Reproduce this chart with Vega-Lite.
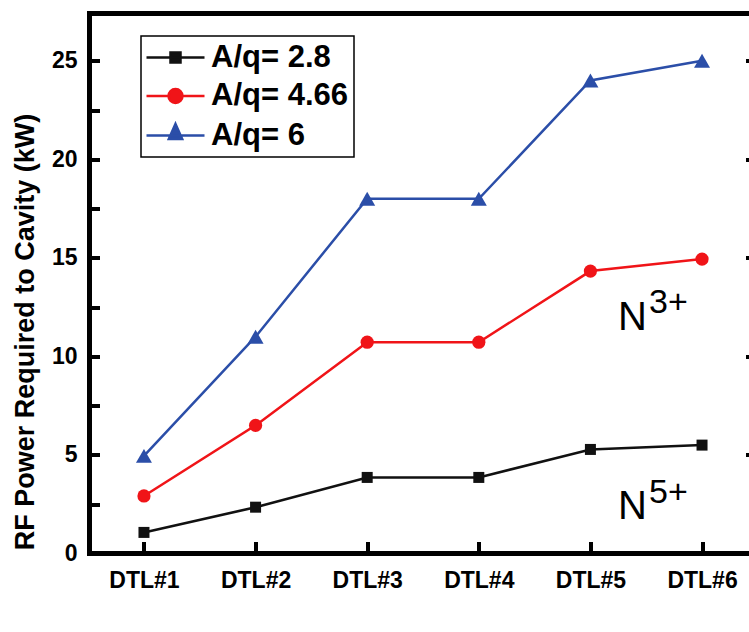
{
  "$schema": "https://vega.github.io/schema/vega-lite/v6.json",
  "width": 667,
  "height": 540,
  "autosize": "none",
  "padding": {"left": 89.5, "top": 13.5, "right": 0, "bottom": 78.5},
  "background": "#ffffff",
  "config": {
    "view": {"stroke": "#000000", "strokeWidth": 5},
    "font": "Liberation Sans"
  },
  "datasets": {
    "series": [
      {"cavity": "DTL#1", "aq": "A/q= 2.8", "power": 1.07},
      {"cavity": "DTL#2", "aq": "A/q= 2.8", "power": 2.35},
      {"cavity": "DTL#3", "aq": "A/q= 2.8", "power": 3.86},
      {"cavity": "DTL#4", "aq": "A/q= 2.8", "power": 3.86},
      {"cavity": "DTL#5", "aq": "A/q= 2.8", "power": 5.28},
      {"cavity": "DTL#6", "aq": "A/q= 2.8", "power": 5.5},
      {"cavity": "DTL#1", "aq": "A/q= 4.66", "power": 2.92},
      {"cavity": "DTL#2", "aq": "A/q= 4.66", "power": 6.5},
      {"cavity": "DTL#3", "aq": "A/q= 4.66", "power": 10.72},
      {"cavity": "DTL#4", "aq": "A/q= 4.66", "power": 10.72},
      {"cavity": "DTL#5", "aq": "A/q= 4.66", "power": 14.33},
      {"cavity": "DTL#6", "aq": "A/q= 4.66", "power": 14.94},
      {"cavity": "DTL#1", "aq": "A/q= 6", "power": 4.95},
      {"cavity": "DTL#2", "aq": "A/q= 6", "power": 11},
      {"cavity": "DTL#3", "aq": "A/q= 6", "power": 18},
      {"cavity": "DTL#4", "aq": "A/q= 6", "power": 18},
      {"cavity": "DTL#5", "aq": "A/q= 6", "power": 24},
      {"cavity": "DTL#6", "aq": "A/q= 6", "power": 25}
    ],
    "notes": [
      {"cavity": "DTL#6", "power": 11.33, "base": "N", "sup": "3+", "supPower": 12.2},
      {"cavity": "DTL#6", "power": 1.73, "base": "N", "sup": "5+", "supPower": 2.54}
    ]
  },
  "resolve": {"axis": {"y": "independent"}},
  "layer": [
    {
      "data": {"name": "series"},
      "mark": {"type": "line", "strokeWidth": 2.5},
      "encoding": {
        "x": {
          "field": "cavity", "type": "ordinal",
          "scale": {"type": "point", "padding": 0.488},
          "axis": {
            "title": "IH-DTL cavity",
            "domain": false, "grid": false,
            "tickSize": -12, "tickWidth": 4, "tickColor": "#000000",
            "labelFont": "Liberation Sans", "labelFontSize": 23, "labelFontWeight": "bold",
            "labelColor": "#000000", "labelPadding": 28, "labelAngle": 0,
            "titleFont": "Liberation Sans", "titleFontSize": 25, "titleFontWeight": "bold",
            "titleColor": "#000000", "titleX": 328.5, "titleY": 624.5, "titleBaseline": "alphabetic"
          }
        },
        "y": {
          "field": "power", "type": "quantitative",
          "scale": {"domain": [0, 27.4], "nice": false, "zero": false},
          "axis": {
            "orient": "left",
            "zindex": 2,
            "ticks": true,
            "values": [0, 2.5, 5, 7.5, 10, 12.5, 15, 17.5, 20, 22.5, 25],
            "labelExpr": "datum.value % 5 === 0 ? datum.label : ''",
            "domain": false, "grid": false,
            "tickSize": -10, "tickOpacity": 1,
            "tickWidth": 4, "tickColor": "#000000",
            "labelFont": "Liberation Sans", "labelFontSize": 23, "labelFontWeight": "bold",
            "labelColor": "#000000", "labelPadding": 22.5,
            "title": "RF Power Required to Cavity (kW)",
            "titleFont": "Liberation Sans", "titleFontSize": 27, "titleFontWeight": "bold",
            "titleColor": "#000000", "titleX": -56.5, "titleY": 318, "titleBaseline": "alphabetic"
          }
        },
        "color": {
          "field": "aq", "type": "nominal",
          "scale": {"domain": ["A/q= 2.8", "A/q= 4.66", "A/q= 6"], "range": ["#111111", "#f01418", "#2b4ea8"]},
          "legend": {
            "orient": "none", "legendX": 51.5, "legendY": 22.5, "title": null,
            "strokeColor": "#000000", "fillColor": "#ffffff",
            "padding": 6, "rowPadding": 6.5,
            "labelFont": "Liberation Sans", "labelFontSize": 31, "labelFontWeight": "bold",
            "labelColor": "#000000", "labelOffset": 3, "labelLimit": 400,
            "symbolSize": 400, "symbolStrokeWidth": 2.5,
            "encode": {
              "legend": {"update": {"strokeWidth": {"value": 1.5}}},
              "symbols": {
                "update": {
                  "shape": {"signal": "datum.value === 'A/q= 2.8' ? 'M-2.9,0H2.9M-0.5,-0.5H0.5V0.5H-0.5Z' : (datum.value === 'A/q= 4.66' ? 'M-2.9,0H2.9M0.7,0A0.7,0.7,0,1,1,-0.7,0A0.7,0.7,0,1,1,0.7,0Z' : 'M-2.9,0H2.9M0,-1.16L0.67,0.35H-0.67Z')"},
                  "fill": {"scale": "color", "field": "value"},
                  "stroke": {"scale": "color", "field": "value"},
                  "x": {"value": 28.5},
                  "opacity": {"value": 1}
                }
              },
              "labels": {
                "update": {
                  "x": {"value": 64}
                }
              }
            }
          }
        }
      }
    },
    {
      "data": {"name": "series"},
      "transform": [{"filter": "datum.aq === 'A/q= 2.8'"}],
      "mark": {"type": "point", "filled": true, "opacity": 1, "shape": "square", "size": 121},
      "encoding": {
        "x": {"field": "cavity", "type": "ordinal"},
        "y": {
          "field": "power", "type": "quantitative",
          "axis": {
            "orient": "right",
            "values": [0, 5, 10, 15, 20, 25],
            "labels": false, "title": null, "domain": false, "grid": false,
            "tickSize": -11, "tickWidth": 4, "tickColor": "#000000"
          }
        },
        "color": {"field": "aq", "type": "nominal"}
      }
    },
    {
      "data": {"name": "series"},
      "transform": [{"filter": "datum.aq === 'A/q= 4.66'"}],
      "mark": {"type": "point", "filled": true, "opacity": 1, "shape": "circle", "size": 175},
      "encoding": {
        "x": {"field": "cavity", "type": "ordinal"},
        "y": {"field": "power", "type": "quantitative", "axis": null},
        "color": {"field": "aq", "type": "nominal"}
      }
    },
    {
      "data": {"name": "series"},
      "transform": [{"filter": "datum.aq === 'A/q= 6'"}],
      "mark": {"type": "point", "filled": true, "opacity": 1, "shape": "triangle-up", "size": 256},
      "encoding": {
        "x": {"field": "cavity", "type": "ordinal"},
        "y": {"field": "power", "type": "quantitative", "axis": null},
        "color": {"field": "aq", "type": "nominal"}
      }
    },
    {
      "data": {"name": "notes"},
      "mark": {"type": "text", "align": "left", "baseline": "alphabetic", "dx": -84, "font": "Liberation Sans", "fontSize": 40, "color": "#000000"},
      "encoding": {
        "x": {"field": "cavity", "type": "ordinal"},
        "y": {"field": "power", "type": "quantitative", "axis": null},
        "text": {"field": "base"}
      }
    },
    {
      "data": {"name": "notes"},
      "mark": {"type": "text", "align": "left", "baseline": "alphabetic", "dx": -53, "font": "Liberation Sans", "fontSize": 34, "color": "#000000"},
      "encoding": {
        "x": {"field": "cavity", "type": "ordinal"},
        "y": {"field": "supPower", "type": "quantitative", "axis": null},
        "text": {"field": "sup"}
      }
    }
  ]
}
